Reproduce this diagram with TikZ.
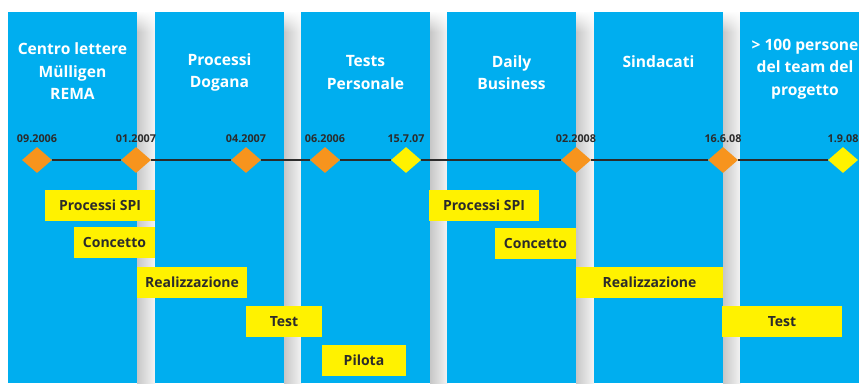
\documentclass[tikz,border=0pt]{standalone}
\usepackage{fontspec}
\setmainfont{Open Sans}
\usetikzlibrary{shapes.geometric,positioning,fadings}
\definecolor{colblue}{HTML}{00AEEF}
\definecolor{msorange}{HTML}{F7941D}
\definecolor{msyellow}{HTML}{FFF200}
\definecolor{textdark}{HTML}{2B2B2B}

\begin{document}
\begin{tikzpicture}[x=1pt,y=-1pt,
    column/.style={fill=colblue},
    title/.style={text=white, font=\fontsize{15.6}{22.5}\selectfont\bfseries, align=center},
    milestone/.style={diamond, fill=msorange, minimum width=30pt, minimum height=26pt, inner sep=0pt},
    goal/.style={milestone, fill=msyellow},
    datelbl/.style={text=textdark, font=\fontsize{10.8}{12}\selectfont\bfseries, inner sep=0pt},
    phase/.style={fill=msyellow, text=textdark, font=\fontsize{14}{16}\selectfont\bfseries, minimum height=31pt, inner sep=0pt},
    timeline/.style={draw=textdark, line width=1.5pt}]

    % Page and shadows between the columns
    \useasboundingbox (0,0) rectangle (859,383);
    \fill[white] (0,0) rectangle (859,383);
    \foreach \gx in {137,284,430,576,723} {
        \shade[left color=black!22, right color=black!4] (\gx,12) rectangle (\gx+18,383);
        \fill[white, path fading=south] (\gx,11) rectangle (\gx+18,32);
    }

    % Columns
    \fill[column] (8,12) rectangle (137,383);
    \fill[column] (155,12) rectangle (284,383);
    \fill[column] (301,12) rectangle (430,383);
    \fill[column] (447,12) rectangle (576,383);
    \fill[column] (594,12) rectangle (723,383);
    \fill[column] (740,12) rectangle (869,383);

    % Column titles
    \node[title] (c1) at (72.5,71.5) {Centro lettere\\Mülligen\\REMA};
    \node[title] (c2) at (219.5,72.5) {Processi\\Dogana};
    \node[title] (c3) at (365.5,72.5) {Tests\\Personale};
    \node[title] (c4) at (511.5,72.5) {Daily\\Business};
    \node[title] (c5) at (658.5,62) {Sindacati};
    \node[title] (c6) at (805,69) {> 100 persone\\del team del\\progetto};

    % Milestones
    \node[milestone] (d1) at (37,160) {};
    \node[milestone] (d2) at (136,160) {};
    \node[milestone] (d3) at (246,160) {};
    \node[milestone] (d4) at (325,160) {};
    \node[goal] (d5) at (406,160) {};
    \node[milestone] (d6) at (576,160) {};
    \node[milestone] (d7) at (723,160) {};
    \node[goal] (d8) at (843,160) {};

    \draw[timeline] (d1) -- (d2) (d2) -- (d3) (d3) -- (d4) (d4) -- (d5)
        (d5) -- (d6) (d6) -- (d7) (d7) -- (d8);

    % Dates
    \node[datelbl, above=4pt of d1] (t1) {09.2006};
    \node[datelbl, above=4pt of d2] (t2) {01.2007};
    \node[datelbl, above=4pt of d3] (t3) {04.2007};
    \node[datelbl, above=4pt of d4] (t4) {06.2006};
    \node[datelbl, above=4pt of d5] (t5) {15.7.07};
    \node[datelbl, above=4pt of d6] (t6) {02.2008};
    \node[datelbl, above=4pt of d7] (t7) {16.6.08};
    \node[datelbl, above=4pt of d8] (t8) {1.9.08};

    % Phases
    \node[phase, minimum width=110pt] (spi1) at (100,205.5) {Processi SPI};
    \node[phase, minimum width=81pt] (conc1) at (114.5,242.5) {Concetto};
    \node[phase, minimum width=110pt] (real1) at (192,282.5) {Realizzazione};
    \node[phase, minimum width=76pt] (test1) at (284,321.5) {Test};
    \node[phase, minimum width=84pt] (pilota) at (364,360.5) {Pilota};
    \node[phase, minimum width=110pt] (spi2) at (484,205.5) {Processi SPI};
    \node[phase, minimum width=81pt] (conc2) at (535.5,243.5) {Concetto};
    \node[phase, minimum width=147pt] (real2) at (649.5,282.5) {Realizzazione};
    \node[phase, minimum width=120pt] (test2) at (782,321.5) {Test};
\end{tikzpicture}
\end{document}
